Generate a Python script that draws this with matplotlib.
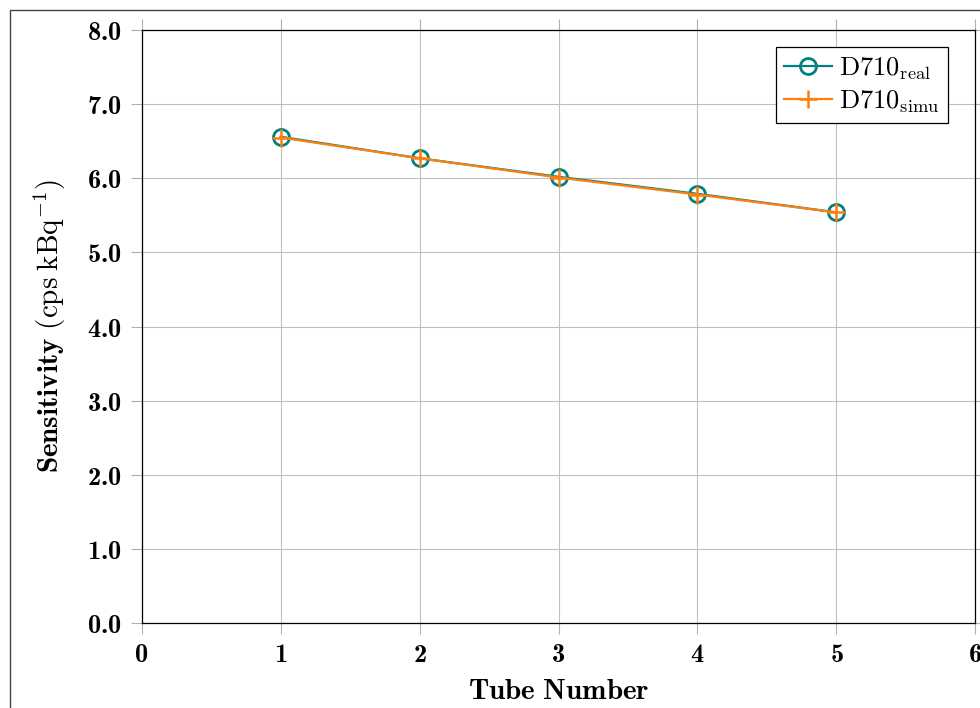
import matplotlib.pyplot as plt
from matplotlib.patches import Rectangle

plt.rcParams['mathtext.fontset'] = 'custom'
plt.rcParams['mathtext.rm'] = 'cmr10'
plt.rcParams['mathtext.bf'] = 'cmb10'
plt.rcParams['mathtext.it'] = 'cmmi10'
plt.rcParams['mathtext.fallback'] = 'cm'

tubes = [1, 2, 3, 4, 5]
sens_real = [6.56, 6.27, 6.02, 5.79, 5.54]
sens_simu = [6.55, 6.27, 6.01, 5.78, 5.54]
xticks = [0, 1, 2, 3, 4, 5, 6]
yticks = [0.0, 1.0, 2.0, 3.0, 4.0, 5.0, 6.0, 7.0, 8.0]

fig = plt.figure(figsize=(9.8, 7.08), dpi=100)
ax = fig.add_axes([0.1444, 0.120, 0.851, 0.8376])

ax.plot(tubes, sens_real, color='#008080', lw=1.6, marker='o', ms=11.5,
        mfc='none', mew=2, label=r'$\mathrm{D710}_{\mathrm{real}}$', zorder=3)
ax.plot(tubes, sens_simu, color='#ff7f0e', lw=1.6, marker='+', ms=13,
        mew=1.8, label=r'$\mathrm{D710}_{\mathrm{simu}}$', zorder=4)

ax.set_xlim(0, 6)
ax.set_ylim(0, 8)
ax.set_xticks(xticks)
ax.set_xticklabels([r'$\mathbf{%d}$' % t for t in xticks])
ax.set_yticks(yticks)
ax.set_yticklabels([r'$\mathbf{%.1f}$' % t for t in yticks])
ax.tick_params(direction='out', length=8, width=0.8, color='#b0b0b0',
               labelsize=19, top=True, right=True, pad=6)
ax.grid(True, color='#c0c0c0', lw=0.8)
for s in ax.spines.values():
    s.set_linewidth(0.9)

ax.set_xlabel(r'$\mathbf{Tube\ Number}$', fontsize=21, labelpad=6)
ax.set_ylabel(r'$\mathbf{Sensitivity}\ (\mathrm{cps}\;\mathrm{kBq}^{-1})$', fontsize=21, labelpad=14)

leg = ax.legend(loc='upper right', fontsize=19, fancybox=False, edgecolor='black',
                framealpha=1, handlelength=1.8, borderpad=0.3, labelspacing=0.25,
                handletextpad=0.3, borderaxespad=0,
                bbox_to_anchor=(0.967, 0.971))
leg.get_frame().set_linewidth(0.9)

fig.patches.append(Rectangle((10 / 980, -0.1), 1.2, 1 - 10 / 708 + 0.1,
                             transform=fig.transFigure, fill=False,
                             edgecolor='#444444', lw=1.0))

fig.savefig('out.png', dpi=100)
